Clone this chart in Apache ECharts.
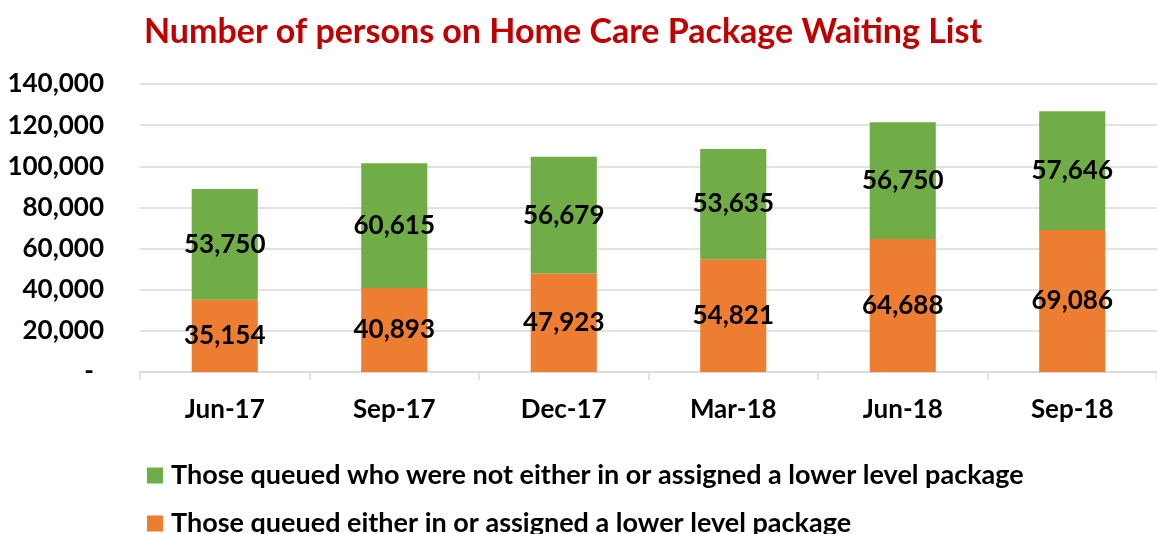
<!DOCTYPE html>
<html>
<head>
<meta charset="utf-8">
<script src="https://cdn.jsdelivr.net/npm/echarts@6/dist/echarts.min.js"></script>
<style>
  html, body { margin: 0; padding: 0; background: #fff; }
  #chart { width: 1157px; height: 534px; }
</style>
</head>
<body>
<div id="chart"></div>
<script>
const categories = ['Jun-17', 'Sep-17', 'Dec-17', 'Mar-18', 'Jun-18', 'Sep-18']
const lowerLevel = [35154, 40893, 47923, 54821, 64688, 69086]
const notLowerLevel = [53750, 60615, 56679, 53635, 56750, 57646]
const seriesNames = [
  'Those queued who were not either in or assigned a lower level package',
  'Those queued either in or assigned a lower level package',
]

const FONT = 'Lato, "Noto Sans", sans-serif'
const fmt = (v) => (v === 0 ? '-' : v.toLocaleString('en-US'))

const chart = echarts.init(document.getElementById('chart'))

const label = {
  show: true,
  position: 'inside',
  color: '#000',
  fontFamily: FONT,
  fontWeight: 'bold',
  fontSize: 26,
  formatter: (p) => fmt(p.value),
}

// one legend per row so they stack like the Excel legend
const legendRow = (name, top) => ({
  left: 142,
  top,
  itemWidth: 16,
  itemHeight: 16,
  icon: 'rect',
  data: [name],
  textStyle: { color: '#000', fontFamily: FONT, fontWeight: 'bold', fontSize: 27, padding: [0, 0, 0, 3] },
})

chart.setOption({
  animation: false,
  title: {
    text: 'Number of persons on Home Care Package Waiting List',
    left: 558,
    textAlign: 'center',
    top: 10,
    textStyle: { color: '#C00000', fontFamily: FONT, fontWeight: 'bold', fontSize: 34 },
  },
  legend: [legendRow(seriesNames[0], 457), legendRow(seriesNames[1], 505)],
  grid: { left: 140, right: -5, top: 84, bottom: 162, containLabel: false },
  xAxis: {
    type: 'category',
    data: categories,
    axisLine: { lineStyle: { color: '#d9d9d9', width: 1.5 } },
    axisTick: { show: true, length: 8, lineStyle: { color: '#d9d9d9', width: 1.5 } },
    axisLabel: { color: '#000', fontFamily: FONT, fontWeight: 'bold', fontSize: 26, margin: 25 },
  },
  yAxis: {
    type: 'value',
    min: 0,
    max: 140000,
    interval: 20000,
    axisLine: { show: false },
    axisTick: { show: false },
    splitLine: { lineStyle: { color: '#d9d9d9', width: 1.5 } },
    axisLabel: {
      color: '#000',
      fontFamily: FONT,
      fontWeight: 'bold',
      fontSize: 26,
      margin: 36,
      formatter: (v) => (v === 0 ? '{dash|-}' : fmt(v)),
      rich: { dash: { fontFamily: FONT, fontWeight: 'bold', fontSize: 26, color: '#000', padding: [0, 10, 0, 0] } },
    },
  },
  series: [
    {
      name: seriesNames[1],
      type: 'bar',
      stack: 'total',
      data: lowerLevel,
      barWidth: '39%',
      itemStyle: { color: '#ED7D31' },
      label,
    },
    {
      name: seriesNames[0],
      type: 'bar',
      stack: 'total',
      data: notLowerLevel,
      barWidth: '39%',
      itemStyle: { color: '#70AD47' },
      label,
    },
  ],
})
</script>
</body>
</html>
